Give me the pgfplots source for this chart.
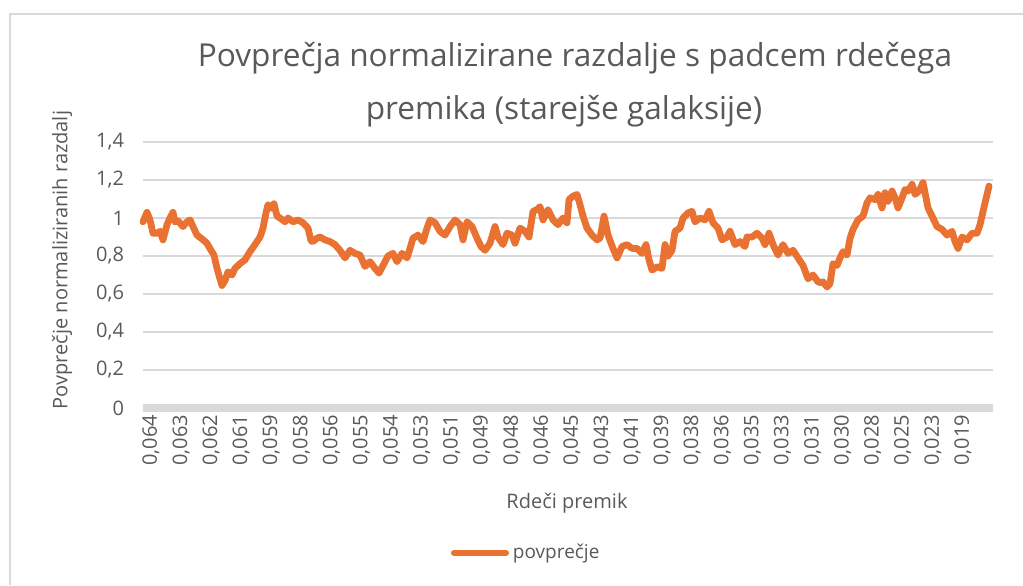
\documentclass[border=0pt]{standalone}
\usepackage{fontspec}
\setmainfont{Open Sans}
\usepackage{pgfplots}
\usepackage{pgfplotstable}
\pgfplotsset{compat=1.18}
\definecolor{txtgray}{HTML}{595959}
\definecolor{gridc}{HTML}{D9D9D9}
\definecolor{lineor}{HTML}{E97132}

% x = pixel position, y = average value
\pgfplotstableread{
px val
143 0.98
147 1.03
150 0.99
153 0.92
157 0.92
160 0.93
163 0.885
167 0.965
170 1.0
173 1.03
175 0.98
178 0.985
183 0.955
187 0.98
190 0.99
193 0.955
197 0.91
202 0.89
207 0.867
211 0.83
214 0.805
217 0.735
220 0.68
222 0.645
225 0.67
228 0.717
232 0.70
235 0.735
240 0.76
245 0.78
250 0.823
255 0.86
260 0.90
263 0.947
266 1.027
268 1.07
272 1.05
274 1.075
277 1.01
280 1.0
285 0.98
288 1.0
293 0.98
298 0.99
303 0.975
308 0.947
311 0.88
313 0.876
317 0.894
320 0.90
325 0.885
330 0.876
335 0.86
340 0.83
345 0.79
350 0.83
355 0.814
360 0.805
365 0.745
370 0.77
375 0.735
379 0.71
383 0.75
388 0.80
393 0.814
397 0.77
402 0.814
407 0.79
410 0.84
413 0.894
418 0.91
423 0.876
427 0.947
430 0.99
435 0.975
440 0.93
445 0.91
450 0.955
455 0.99
460 0.965
463 0.885
467 0.98
472 0.955
477 0.894
481 0.85
485 0.83
490 0.867
495 0.955
498 0.90
503 0.86
507 0.92
512 0.91
515 0.867
520 0.947
525 0.93
529 0.90
533 1.035
537 1.044
540 1.06
543 0.99
548 1.044
553 0.99
558 0.965
563 1.0
567 0.975
569 1.097
573 1.115
577 1.124
580 1.07
583 1.01
587 0.947
592 0.91
597 0.885
600 0.894
604 1.01
608 0.91
613 0.84
617 0.79
622 0.85
627 0.86
632 0.84
637 0.84
642 0.814
646 0.86
649 0.78
652 0.726
657 0.743
662 0.735
665 0.86
668 0.80
672 0.83
675 0.93
680 0.947
683 1.0
688 1.027
692 1.035
695 0.98
700 1.0
705 0.99
709 1.035
713 0.975
718 0.947
722 0.885
727 0.90
730 0.93
735 0.86
740 0.876
745 0.85
747 0.90
752 0.90
757 0.92
762 0.894
765 0.86
769 0.92
773 0.86
778 0.805
783 0.86
788 0.814
793 0.83
798 0.79
803 0.75
808 0.68
813 0.70
818 0.664
821 0.66
823 0.664
827 0.637
830 0.655
833 0.76
837 0.75
840 0.79
843 0.823
847 0.805
850 0.894
853 0.94
858 0.99
863 1.01
867 1.08
870 1.106
875 1.097
878 1.124
882 1.053
885 1.133
888 1.088
892 1.142
895 1.106
898 1.053
902 1.106
905 1.15
908 1.142
912 1.177
915 1.124
919 1.142
923 1.186
926 1.106
928 1.053
932 1.01
937 0.955
942 0.94
947 0.91
952 0.93
955 0.876
958 0.84
962 0.90
967 0.885
972 0.92
977 0.92
980 0.965
983 1.035
987 1.124
989 1.168
}\avgdata

\begin{document}
\begin{tikzpicture}
\path[use as bounding box] (0,0) rectangle (511.5pt,-292.5pt);
% chart area frame
\draw[gridc, line width=0.6pt] (511.5pt,-7pt) -- (5pt,-7pt) -- (5pt,-292.5pt);

\begin{axis}[
  at={(71.5pt,-204pt)}, anchor=south west,
  scale only axis,
  width=425pt, height=133pt,
  xmin=-0.166, xmax=28.1,
  ymin=0, ymax=1.4,
  ytick={0,0.2,...,1.4},
  xtick={0,...,27},
  xticklabels={{0,064},{0,063},{0,062},{0,061},{0,059},{0,058},{0,056},{0,055},{0,054},{0,053},{0,051},{0,049},{0,048},{0,046},{0,045},{0,043},{0,041},{0,039},{0,038},{0,036},{0,035},{0,033},{0,031},{0,030},{0,028},{0,025},{0,023},{0,019}},
  axis line style={draw=none},
  tick style={draw=none},
  ymajorgrids,
  grid style={gridc, line width=0.75pt},
  /pgf/number format/assume math mode=true,
  /pgf/number format/use comma,
  tick label style={font=\fontsize{10}{12}\selectfont, text=txtgray},
  xticklabel style={rotate=90, anchor=east, yshift=-1.5pt},
  yticklabel style={xshift=-6pt},
  clip=false,
  legend style={draw=none, fill=none, at={(0.452,-0.545)}, anchor=center,
    font=\fontsize{9.5}{11}\selectfont, text=txtgray},
  legend image code/.code={\draw[line width=3pt, line cap=round] (0pt,0pt) -- (26pt,0pt);},
]
\draw[gridc, line width=4pt] (rel axis cs:0,0) -- (rel axis cs:1,0);
\addplot[lineor, line width=3.4pt, line join=round, line cap=round]
  table[x expr=(\thisrow{px}-148)/30.07, y=val] {\avgdata};
\addlegendentry{povprečje}
\end{axis}

\node[text=txtgray, font=\fontsize{15.8}{18}\selectfont] at (287.5pt,-29pt)
  {Povprečja normalizirane razdalje s padcem rdečega};
\node[text=txtgray, font=\fontsize{15.8}{18}\selectfont] at (282pt,-55.5pt)
  {premika (starejše galaksije)};
\node[text=txtgray, font=\fontsize{10}{12}\selectfont, rotate=90] at (31pt,-130pt)
  {Povprečje normaliziranih razdalj};
\node[text=txtgray, font=\fontsize{10}{12}\selectfont] at (283.5pt,-251.5pt)
  {Rdeči premik};
\end{tikzpicture}
\end{document}
